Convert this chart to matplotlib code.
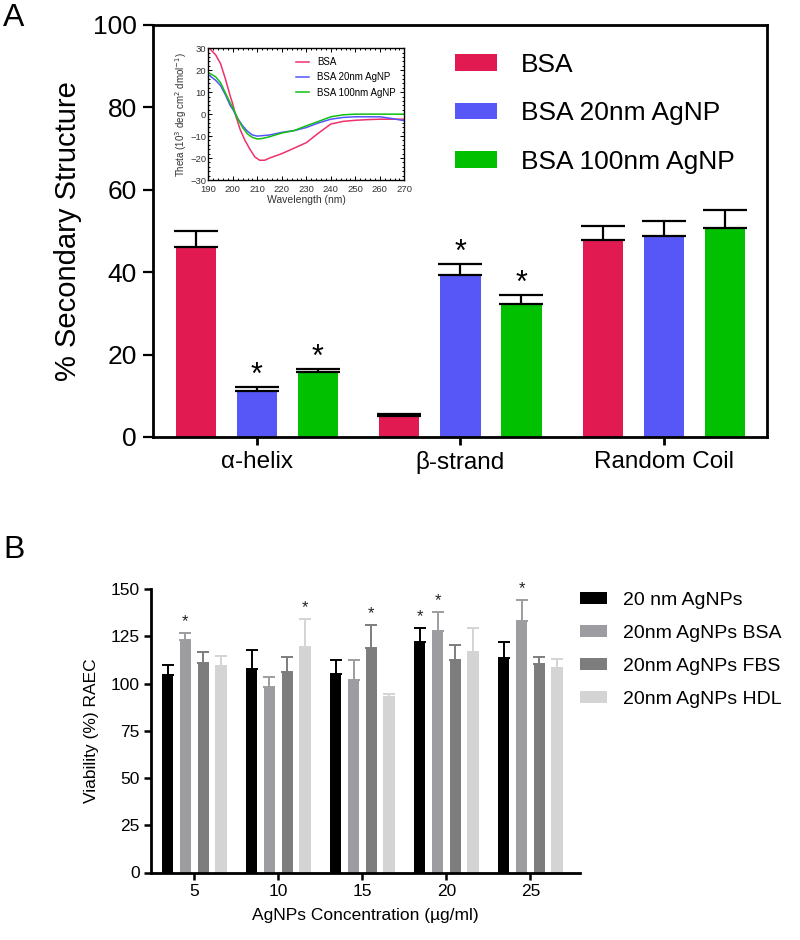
import numpy as np
import matplotlib
matplotlib.use("Agg")
import matplotlib.pyplot as plt
from matplotlib.patches import Patch

plt.rcParams['font.family'] = ['Liberation Sans', 'DejaVu Sans']

# ---------------- Panel A data ----------------
structures = ['α-helix', 'β-strand', 'Random Coil']
a_series = ['BSA', 'BSA 20nm AgNP', 'BSA 100nm AgNP']
a_bsa = [46.2, 5.2, 47.7]
a_bsa_err = [3.9, 0.45, 3.4]
a_bsa20 = [11.2, 39.2, 48.7]
a_bsa20_err = [0.9, 2.9, 3.8]
a_bsa100 = [15.8, 32.2, 50.7]
a_bsa100_err = [0.8, 2.3, 4.4]
a_stars = [(1, 0), (2, 0), (1, 1), (2, 1)]  # (series index, category index)

# CD spectra (inset)
wl_bsa = [190, 193, 195, 197, 199, 200, 201, 203, 205, 207, 209, 211, 213, 215, 220, 225, 230, 235, 240, 245, 250, 255, 260, 265, 270]
cd_bsa = [30.5, 27, 23, 16, 8, 4.6, 0, -7, -12, -16, -19.5, -21, -21, -20, -18, -15.5, -13, -8.6, -4.5, -3.3, -2.8, -2.5, -2.3, -2.3, -2.3]
wl_np = [190, 193, 195, 197, 199, 200, 202, 204, 206, 208, 210, 212, 215, 220, 225, 230, 235, 240, 245, 250, 255, 260, 265, 270]
cd_bsa20 = [18, 15.4, 13, 8.8, 3.8, 2.2, -2, -5.3, -7.8, -9.5, -10, -9.8, -9.5, -8.3, -7.5, -6.1, -4, -2.3, -1.5, -1.2, -1.2, -1.2, -2, -3]
cd_bsa100 = [19, 17, 14.3, 9.6, 5, 3, -2, -6.1, -9, -10.6, -11.3, -11.1, -10.3, -8.6, -7.5, -5.3, -3.3, -1.2, -0.3, 0, 0, 0, 0, 0]

# ---------------- Panel B data ----------------
conc = ['5', '10', '15', '20', '25']
b_series = ['20 nm AgNPs', '20nm AgNPs BSA', '20nm AgNPs FBS', '20nm AgNPs HDL']
b_np = [104.3, 107.6, 104.8, 122.2, 113.3]
b_np_err = [5.7, 10.3, 7.4, 7.2, 8.7]
b_bsa = [122.9, 97.9, 102.1, 127.8, 133.3]
b_bsa_err = [3.9, 5.8, 10.1, 10.1, 10.7]
b_fbs = [111.0, 106.2, 118.8, 112.6, 110.3]
b_fbs_err = [5.8, 8.0, 11.9, 7.8, 3.9]
b_hdl = [109.0, 119.3, 92.9, 116.5, 108.3]
b_hdl_err = [5.7, 14.9, 1.8, 12.8, 4.6]
b_stars = [(1, 0), (3, 1), (2, 2), (0, 3), (1, 3), (1, 4)]  # (series index, group index)

a_colors = ['#E11B52', '#5757F8', '#00C000']
b_colors = ['#000000', '#9D9DA1', '#7D7D7D', '#D4D4D4']

fig = plt.figure(figsize=(8, 9.4), dpi=100)
W, H = 800, 940

def fbox(l, t, r, b):
    return [l / W, 1 - b / H, (r - l) / W, (b - t) / H]

# ================= Panel A =================
axA = fig.add_axes(fbox(153, 25, 766.7, 437))
xA = np.arange(len(structures))
step, bw = 0.30, 0.198
valsA = [a_bsa, a_bsa20, a_bsa100]
errsA = [a_bsa_err, a_bsa20_err, a_bsa100_err]
for i, (v, e) in enumerate(zip(valsA, errsA)):
    pos = xA + (i - 1) * step
    axA.bar(pos, v, bw, color=a_colors[i], label=a_series[i], zorder=2)
    axA.errorbar(pos, v, yerr=[np.zeros(len(v)), e], fmt='none', ecolor='black',
                 elinewidth=1.6, capsize=15.5, capthick=1.6, zorder=3)
for s, c in a_stars:
    top = valsA[s][c] + errsA[s][c]
    axA.annotate('*', (xA[c] + (s - 1) * step, top), xytext=(0, -3), textcoords='offset points',
                 ha='center', va='bottom', fontsize=22)
axA.set_xlim(-0.51, 2.505)
axA.set_ylim(0, 100)
axA.set_yticks([0, 20, 40, 60, 80, 100])
axA.set_xticks(xA)
axA.set_xticklabels(structures)
for sp in axA.spines.values():
    sp.set_linewidth(2.0)
axA.tick_params(axis='y', direction='out', length=7.5, width=1.6, labelsize=19, pad=4)
axA.tick_params(axis='x', direction='out', length=6, width=2.0, labelsize=17.5, pad=4)
axA.set_ylabel('% Secondary Structure', fontsize=21, labelpad=8)

handlesA = [Patch(facecolor=c) for c in a_colors]
axA.legend(handlesA, a_series, loc='upper left', bbox_to_anchor=(455 / W, 1 - 53 / H),
           bbox_transform=fig.transFigure, frameon=False, fontsize=19,
           handlelength=1.6, handleheight=0.6, handletextpad=0.9,
           labelspacing=0.92, borderpad=0, borderaxespad=0)

fig.text(14 / W, 1 - 18 / H, 'A', fontsize=23, ha='center', va='center')

# ---------------- Inset ----------------
axI = fig.add_axes(fbox(208.3, 48.3, 404.3, 180))
axI.plot(wl_bsa, cd_bsa, color='#F0306A', lw=1.1, label='BSA')
axI.plot(wl_np, cd_bsa20, color='#5555FF', lw=1.1, label='BSA 20nm AgNP')
axI.plot(wl_np, cd_bsa100, color='#11C011', lw=1.1, label='BSA 100nm AgNP')
axI.set_xlim(190, 270)
axI.set_ylim(-30, 30)
axI.set_xticks(np.arange(190, 271, 10))
axI.set_yticks(np.arange(-30, 31, 10))
axI.set_xticks(np.arange(190, 271, 2), minor=True)
axI.set_yticks(np.arange(-30, 31, 2), minor=True)
axI.tick_params(which='both', direction='in', top=True, right=True, labelsize=6.8,
                width=0.7, labelcolor='#333333')
axI.tick_params(which='major', length=3)
axI.tick_params(which='minor', length=1.5)
axI.tick_params(axis='x', pad=3.5)
axI.tick_params(axis='y', pad=1.5)
for sp in axI.spines.values():
    sp.set_linewidth(1.0)
axI.set_xlabel('Wavelength (nm)', fontsize=7.5, labelpad=0.5, color='#333333')
axI.set_ylabel('Theta (10$^3$ deg cm$^2$ dmol$^{-1}$)', fontsize=7, labelpad=1, color='#333333')
axI.legend(loc='upper right', frameon=False, fontsize=7, handlelength=1.4,
           handletextpad=0.8, labelspacing=0.55, borderpad=0.4)

# ================= Panel B =================
axB = fig.add_axes(fbox(150.7, 589, 580, 872.5))
xB = np.arange(len(conc))
stepB, bwB = 0.212, 0.137
valsB = [b_np, b_bsa, b_fbs, b_hdl]
errsB = [b_np_err, b_bsa_err, b_fbs_err, b_hdl_err]
for i, (v, e) in enumerate(zip(valsB, errsB)):
    pos = xB + (i - 1.5) * stepB
    axB.bar(pos, v, bwB, color=b_colors[i], label=b_series[i], zorder=2)
    axB.errorbar(pos, v, yerr=[np.zeros(len(v)), e], fmt='none', ecolor=b_colors[i],
                 elinewidth=1.4, capsize=4.5, capthick=1.4, zorder=1)
for s, g in b_stars:
    top = valsB[s][g] + errsB[s][g]
    axB.annotate('*', (xB[g] + (s - 1.5) * stepB, top), xytext=(0, 3), textcoords='offset points',
                 ha='center', va='bottom', fontsize=12, color='#222222')
axB.set_xlim(-0.52, 4.59)
axB.set_ylim(0, 150)
axB.set_yticks(np.arange(0, 151, 25))
axB.set_xticks(xB)
axB.set_xticklabels(conc)
axB.spines['top'].set_visible(False)
axB.spines['right'].set_visible(False)
for sp in ['left', 'bottom']:
    axB.spines[sp].set_linewidth(2.0)
axB.tick_params(axis='both', direction='out', length=5, width=1.8, labelsize=12.5, pad=3)
axB.set_ylabel('Viability (%) RAEC', fontsize=12.5, labelpad=8)
axB.set_xlabel('AgNPs Concentration (µg/ml)', fontsize=12.5, labelpad=7)

handlesB = [Patch(facecolor=c) for c in b_colors]
axB.legend(handlesB, b_series, loc='upper left', bbox_to_anchor=(580 / W, 1 - 592 / H),
           bbox_transform=fig.transFigure, frameon=False, fontsize=14,
           handlelength=1.4, handleheight=0.6, handletextpad=0.8,
           labelspacing=0.82, borderpad=0, borderaxespad=0)

fig.text(14 / W, 1 - 550 / H, 'B', fontsize=23, ha='center', va='center')

fig.savefig('out.png', dpi=100)
